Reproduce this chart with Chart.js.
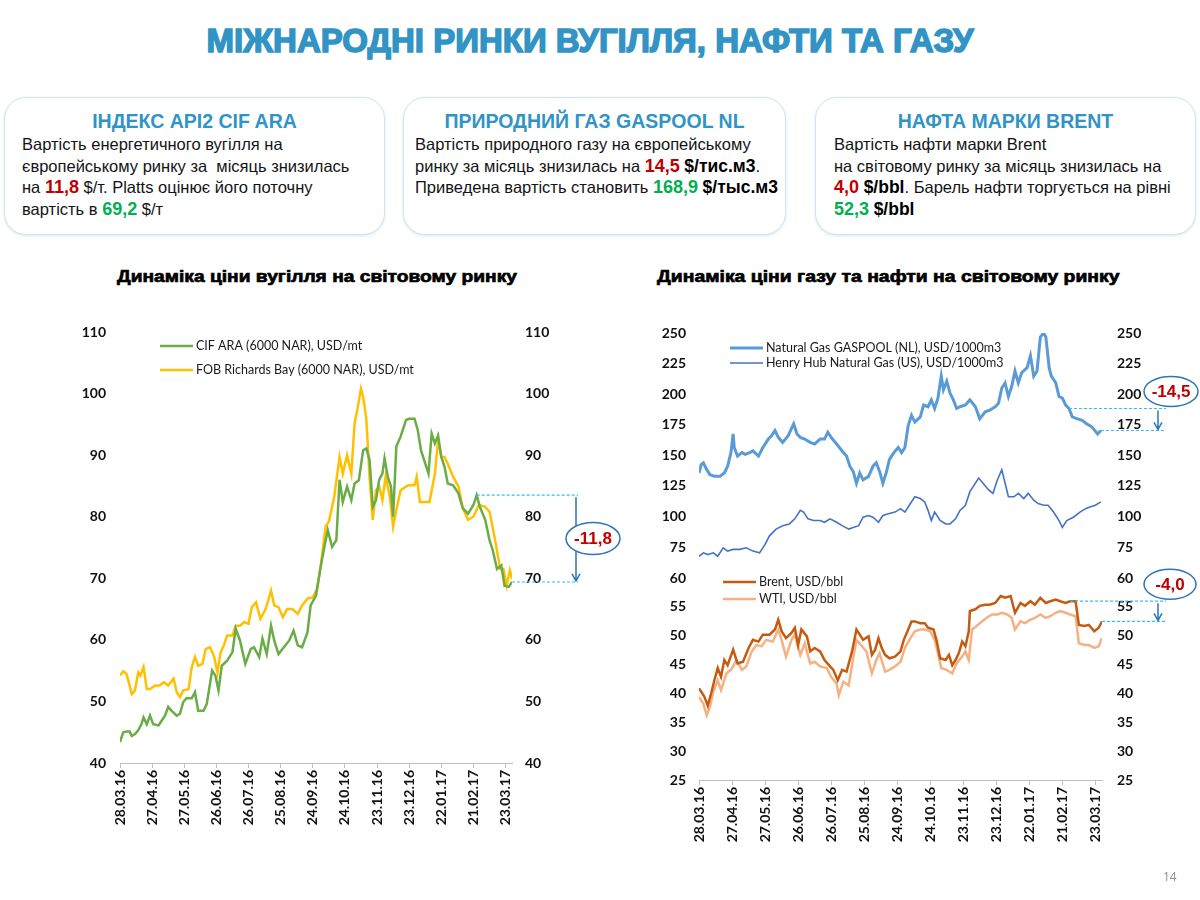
<!DOCTYPE html>
<html>
<head>
<meta charset="utf-8">
<script src="https://cdn.jsdelivr.net/npm/chart.js@4.4.0/dist/chart.umd.min.js"></script>
<style>
  body { margin: 0; background: #fff; font-family: "Liberation Sans", Arial, sans-serif; }
  #page { position: relative; width: 1200px; height: 900px; overflow: hidden; background: #fff; }
  h1 { position: absolute; left: -10px; top: 21px; width: 1200px; margin: 0; text-align: center;
       font-family: "Liberation Sans Narrow", "Liberation Sans", sans-serif; font-weight: bold;
       font-size: 33px; line-height: 40px; color: #3194c4; -webkit-text-stroke: 1.5px #3194c4; }
  .box { position: absolute; top: 97px; height: 138px; box-sizing: border-box; border: 1.5px solid #cde5f0;
         border-radius: 22px; background: #fff; box-shadow: 0 1px 3px rgba(140, 185, 210, .35); }
  .box h2 { margin: 11px 0 0 0; text-align: center; font-size: 19.5px; line-height: 25px; color: #3194c4; font-weight: bold; }
  .box p { margin: 0; font-size: 16.5px; line-height: 21.7px; color: #141414; white-space: nowrap; }
  .r { color: #c00000; font-weight: bold; font-size: 18px; }
  .g { color: #00b050; font-weight: bold; font-size: 18px; }
  .u { font-weight: bold; font-size: 17.5px; color: #000; }
  .ctitle { position: absolute; top: 267px; font-weight: bold; font-size: 17px; color: #000;
            -webkit-text-stroke: .7px #000; white-space: nowrap; transform-origin: 0 50%; }
  canvas { position: absolute; }
  #pnum { position: absolute; left: 1163px; top: 868px; font-size: 12px; color: #8c8c8c; font-family: "Open Sans", sans-serif; }
</style>
</head>
<body>
<div id="page">
  <h1>МІЖНАРОДНІ РИНКИ ВУГІЛЛЯ, НАФТИ ТА ГАЗУ</h1>

  <div class="box" style="left:4px;width:381px;padding-left:17px;">
    <h2 style="margin-left:-17px">ІНДЕКС API2 CIF ARA</h2>
    <p>Вартість енергетичного вугілля на<br>
       європейському ринку за&nbsp; місяць знизилась<br>
       на <span class="r">11,8</span> $/т. Platts оцінює його поточну<br>
       вартість в <span class="g">69,2</span> $/т</p>
  </div>
  <div class="box" style="left:403px;width:383px;padding-left:11px;">
    <h2 style="margin-left:-11px">ПРИРОДНИЙ ГАЗ GASPOOL NL</h2>
    <p>Вартість природного газу на європейському<br>
       ринку за місяць знизилась на <span class="r">14,5</span> <span class="u">$/тис.м3</span>.<br>
       Приведена вартість становить <span class="g">168,9</span> <span class="u">$/тыс.м3</span></p>
  </div>
  <div class="box" style="left:815px;width:381px;padding-left:18px;">
    <h2 style="margin-left:-18px">НАФТА МАРКИ BRENT</h2>
    <p>Вартість нафти марки Brent<br>
       на світовому ринку за місяць знизилась на<br>
       <span class="r">4,0</span> <span class="u">$/bbl</span>. Барель нафти торгується на рівні<br>
       <span class="g">52,3</span> <span class="u">$/bbl</span></p>
  </div>

  <div class="ctitle" style="left:117px;transform:scaleX(1.13)">Динаміка ціни вугілля на світовому ринку</div>
  <div class="ctitle" style="left:657px;transform:scaleX(1.14)">Динаміка ціни газу та нафти на світовому ринку</div>

  <canvas id="coal" width="600" height="540" style="left:40px;top:300px"></canvas>
  <canvas id="gasoil" width="560" height="570" style="left:640px;top:300px"></canvas>
  <div id="pnum">14</div>
</div>

<script>
// x = days since 28.03.16
const dateLabels = ['28.03.16', '27.04.16', '27.05.16', '26.06.16', '26.07.16', '25.08.16', '24.09.16',
  '24.10.16', '23.11.16', '23.12.16', '22.01.17', '21.02.17', '23.03.17'];
const tickDays = [0, 30, 60, 90, 120, 150, 180, 210, 240, 270, 300, 330, 360];

// coal, USD/mt
const cifDays = [0,3,6,9,11,14,17,20,22,25,28,31,36,39,42,45,48,53,56,59,62,67,70,73,78,81,86,89,92,95,100,105,108,112,117,122,125,130,133,137,141,144,148,153,158,162,166,170,175,178,183,187,191,194,198,202,205,208,212,216,219,223,227,230,233,236,239,242,245,247,250,253,255,258,262,267,270,275,278,281,284,288,291,294,297,300,303,306,311,316,320,325,330,333,336,341,345,348,352,356,359,363,366];
const cifValues = [43.4,45.0,45.1,45.1,44.4,44.7,45.3,46.3,47.4,46.3,47.7,46.3,46.1,46.9,47.7,49.1,48.5,47.7,48.0,49.9,50.5,50.5,51.5,48.5,48.5,49.6,55.0,54.2,51.8,55.8,56.6,58.0,61.8,59.9,56.1,58.5,58.8,57.2,60.2,57.7,62.3,59.9,57.7,58.8,59.9,61.5,59.1,58.8,61.2,65.6,67.2,71.5,75.3,77.8,75.1,76.2,86.0,82.4,84.9,82.7,85.4,85.9,90.8,91.1,89.2,81.6,82.7,86.0,87.0,89.5,86.5,84.9,80.0,91.4,93.0,95.7,95.9,95.9,94.1,90.8,89.2,87.0,93.5,91.9,93.2,89.7,88.1,85.4,85.1,83.8,81.4,80.5,81.9,83.5,81.6,79.5,76.2,74.6,71.5,72.1,68.8,68.6,69.4];
const fobDays = [0,3,6,9,11,14,17,19,22,25,28,33,37,41,45,50,53,56,59,64,67,70,73,77,80,84,88,91,94,97,100,105,108,112,116,120,123,127,131,136,141,144,148,152,156,161,166,170,175,180,184,187,192,195,200,205,208,212,216,219,222,225,227,230,233,236,239,242,245,248,252,255,258,262,269,275,277,280,284,289,294,297,300,303,306,311,316,320,325,330,335,341,345,350,355,358,361,364,366];
const fobValues = [54.2,54.9,54.5,52.6,51.2,51.8,54.7,54.2,55.6,52.0,52.0,52.6,52.6,53.1,52.6,53.7,51.5,50.7,51.8,52.0,55.6,57.2,55.8,56.1,58.5,58.8,57.2,54.7,58.0,59.1,60.7,60.7,62.3,62.3,62.9,62.6,65.3,66.1,63.4,65.0,68.0,65.6,65.3,63.7,65.0,65.0,64.2,65.6,66.7,66.9,68.3,71.5,78.4,79.2,83.2,89.7,87.0,90.0,87.0,95.1,97.8,100.8,99.5,95.9,86.5,79.5,84.3,84.9,82.7,86.5,83.2,78.4,81.1,84.3,85.1,85.1,86.5,82.4,82.4,82.4,87.0,92.4,89.7,89.7,88.6,86.5,84.9,81.4,79.5,80.0,81.9,81.6,80.8,76.4,71.5,71.5,68.8,71.3,69.9];

// gas, USD/1000m3
const gaspoolDays = [0,2,4,7,10,14,19,23,26,29,31,32,35,39,42,46,49,54,58,63,66,69,72,76,81,86,89,92,96,101,105,110,114,117,120,125,130,134,137,140,143,146,149,154,158,161,164,167,170,173,177,181,184,187,190,193,196,201,204,208,211,214,217,220,222,225,228,231,234,237,242,246,251,255,260,264,269,272,275,278,281,284,287,290,293,298,301,304,307,310,313,315,318,320,324,327,330,333,336,339,343,348,352,357,362,365];
const gaspoolValues = [135.6,142.5,143.9,138.3,134.2,132.8,132.8,135.6,141.1,152.2,167.5,156.4,149.4,152.2,150.8,152.2,153.6,149.4,156.4,163.3,166.1,170.3,164.7,160.6,166.1,175.8,167.5,164.7,163.3,160.6,159.2,163.3,163.3,168.9,164.7,159.2,153.6,149.4,141.1,136.9,127.2,135.6,130.0,132.8,141.1,143.9,136.9,127.2,135.6,146.7,152.2,156.4,152.2,156.4,174.4,182.8,177.2,181.4,191.1,189.7,195.3,188.3,196.7,214.7,203.6,210.6,200.8,195.3,188.3,189.7,191.1,195.3,189.7,180.0,185.6,186.9,189.7,192.5,205.0,209.2,198.1,206.4,218.9,209.2,217.5,221.7,231.4,214.7,218.9,246.7,250.0,246.7,221.7,214.7,209.2,198.1,196.7,191.1,188.3,181.4,180.0,178.6,175.8,173.1,167.5,170.3];
const henryDays = [0,4,8,13,17,22,26,31,37,43,49,55,60,64,70,76,82,87,92,95,99,104,110,114,119,125,130,136,140,145,149,154,158,163,167,172,178,183,187,192,196,201,205,208,211,214,219,224,228,233,237,242,246,249,254,258,263,267,271,275,278,281,286,290,295,299,304,308,313,317,322,327,330,334,340,346,351,355,360,365];
const henryValues = [67.5,70.3,68.9,70.3,67.5,74.4,71.7,73.1,73.1,74.4,71.7,70.3,77.2,84.2,89.7,92.5,93.9,98.1,105.0,103.6,98.1,96.7,96.7,95.3,98.1,95.3,92.5,89.7,91.1,92.5,99.4,100.8,99.4,95.3,100.8,102.2,103.6,106.4,103.6,110.6,116.1,114.7,111.9,105.0,96.7,103.6,96.7,93.9,93.9,98.1,105.0,109.2,120.3,124.4,131.4,127.2,121.7,118.9,130.0,138.3,127.2,116.1,116.1,118.9,114.7,118.9,113.3,110.6,109.2,109.2,103.6,96.7,91.1,96.7,99.4,103.6,106.4,107.8,109.2,111.9];

// oil, USD/bbl
const brentDays = [0,2,5,8,11,14,17,20,23,26,31,35,40,45,49,54,58,64,69,72,75,79,84,87,90,93,98,101,105,110,114,119,122,126,130,134,139,143,146,149,154,157,160,163,166,169,173,178,183,186,190,193,196,201,205,208,213,216,219,224,227,230,233,236,239,242,245,246,251,255,260,264,269,274,278,283,287,292,296,301,305,310,315,319,324,328,333,337,342,345,350,354,359,363,366];
const brentValues = [40.9,40.3,39.4,37.9,40.0,42.3,44.4,42.9,45.8,44.9,47.6,45.2,45.5,47.9,49.3,49.0,50.2,50.2,51.1,52.8,50.8,49.6,50.5,51.4,48.4,51.1,49.9,47.3,47.9,47.3,45.8,44.7,44.1,42.3,44.1,43.8,47.3,51.1,50.2,49.3,49.9,46.7,47.6,49.6,47.9,46.7,46.1,46.4,47.3,49.3,51.1,52.5,52.5,52.2,52.2,51.4,51.1,49.0,46.1,45.8,46.7,44.9,45.8,47.0,49.0,48.2,50.8,54.3,54.6,55.2,55.4,55.4,55.7,56.9,56.6,56.9,54.0,55.7,55.2,56.0,55.4,56.6,55.7,56.0,56.3,56.0,55.7,56.0,56.0,51.9,51.7,51.9,50.8,51.4,52.5];
const wtiDays = [0,4,7,10,13,17,20,25,29,34,39,43,48,52,57,61,67,72,75,79,84,87,92,96,101,105,110,116,120,125,127,131,136,140,143,148,152,157,161,164,169,173,178,183,187,192,196,201,205,210,214,217,220,225,230,234,239,242,245,248,252,257,261,266,271,275,280,284,287,292,296,301,305,310,315,319,324,328,333,337,342,345,350,354,359,363,366];
const wtiValues = [39.4,38.2,36.2,37.7,40.3,42.3,40.6,43.5,44.1,45.8,44.1,44.7,47.3,48.4,48.2,49.3,49.0,51.1,49.3,46.4,49.3,50.2,46.7,48.7,45.2,45.5,44.7,44.4,42.9,41.7,39.7,42.0,41.4,46.1,49.3,48.2,47.3,43.5,45.8,47.0,43.8,44.1,44.7,45.5,47.9,49.6,50.8,51.1,51.1,50.8,49.3,47.0,44.4,44.1,43.5,45.2,46.4,47.3,45.8,51.1,51.7,52.5,53.1,53.7,53.7,54.0,53.7,53.1,51.1,52.5,52.2,52.8,53.1,53.7,53.1,53.4,54.0,54.3,54.0,53.7,53.4,48.7,48.4,48.4,47.9,48.2,49.6];

const coalTicks = [40, 50, 60, 70, 80, 90, 100, 110];
const gasTicks = [75, 100, 125, 150, 175, 200, 225, 250];
const oilTicks = [25, 30, 35, 40, 45, 50, 55, 60];

const pts = (days, vals) => days.map((d, i) => ({ x: d, y: vals[i] }));
const setTicks = list => scale => { scale.ticks = list.map(v => ({ value: v })); };

const tickFont = { family: 'Lato', weight: 'bold', size: 14 };

// legend drawn inside the plot
const insideLegend = {
  id: 'insideLegend',
  afterDatasetsDraw(chart, args, opts) {
    const ctx = chart.ctx;
    (opts.groups || []).forEach(g => {
      const top = g.scale ? chart.scales[g.scale].top : chart.chartArea.top;
      g.items.forEach((di, k) => {
        const ds = chart.data.datasets[di];
        const x = chart.chartArea.left + g.dx;
        const y = top + g.dy + k * g.gap;
        ctx.save();
        ctx.strokeStyle = ds.borderColor;
        ctx.lineWidth = ds.borderWidth;
        ctx.beginPath();
        ctx.moveTo(x, y);
        ctx.lineTo(x + 33, y);
        ctx.stroke();
        ctx.fillStyle = '#1a1a1a';
        ctx.font = '12.5px Lato';
        ctx.textBaseline = 'middle';
        ctx.fillText(ds.label, x + 36, y);
        ctx.restore();
      });
    });
  }
};

// dashed level lines, arrow and the oval with the monthly change
const dropMark = {
  id: 'dropMark',
  afterDatasetsDraw(chart, args, opts) {
    const ctx = chart.ctx;
    const area = chart.chartArea;
    (opts.items || []).forEach(it => {
      const ds = chart.data.datasets[it.dataset];
      const xs = chart.scales.x;
      const ys = chart.scales[ds.yAxisID];
      const start = ds.data.find(p => p.x === it.fromDay);
      const last = ds.data[ds.data.length - 1];
      const yTop = ys.getPixelForValue(start.y);
      const yBot = ys.getPixelForValue(last.y);
      const xEnd = area.right + it.lineEnd;
      const ax = area.right + it.arrowX;
      ctx.save();
      ctx.strokeStyle = '#33bdf0';
      ctx.lineWidth = 1.2;
      ctx.setLineDash([3, 2]);
      ctx.beginPath();
      ctx.moveTo(xs.getPixelForValue(start.x), yTop);
      ctx.lineTo(xEnd, yTop);
      ctx.moveTo(xs.getPixelForValue(last.x), yBot);
      ctx.lineTo(xEnd, yBot);
      ctx.stroke();
      ctx.setLineDash([]);
      ctx.strokeStyle = '#2e75b6';
      ctx.lineWidth = 1.5;
      ctx.beginPath();
      ctx.moveTo(ax, yTop + 2);
      ctx.lineTo(ax, yBot - 1);
      ctx.moveTo(ax - 4, yBot - 8);
      ctx.lineTo(ax, yBot - 1);
      ctx.lineTo(ax + 4, yBot - 8);
      ctx.stroke();
      const cx = ax + it.ex;
      const cy = it.above ? yTop - it.ey : (yTop + yBot) / 2;
      if (!it.above) {
        ctx.fillStyle = '#fff';
        ctx.beginPath();
        ctx.ellipse(cx, cy, it.rx, it.ry, 0, 0, Math.PI * 2);
        ctx.fill();
      }
      ctx.beginPath();
      ctx.ellipse(cx, cy, it.rx, it.ry, 0, 0, Math.PI * 2);
      ctx.stroke();
      ctx.fillStyle = '#c00000';
      ctx.font = 'bold 17px "Liberation Sans"';
      ctx.textAlign = 'center';
      ctx.textBaseline = 'middle';
      ctx.fillText(it.text, cx, cy + 1);
      ctx.restore();
    });
  }
};

const xAxis = height => ({
  type: 'linear', min: 0, max: 366,
  afterBuildTicks: setTicks(tickDays),
  afterFit: s => { s.height = height; },
  ticks: { callback: (v, i) => dateLabels[i], minRotation: 90, maxRotation: 90, autoSkip: false,
           font: tickFont, color: '#111', padding: 2 },
  grid: { drawOnChartArea: false, drawTicks: true, tickLength: 5, color: '#bfbfbf' },
  border: { color: '#bfbfbf' }
});

const yAxis = (pos, min, max, ticks, width, pad, extra) => Object.assign({
  type: 'linear', position: pos, min: min, max: max,
  afterBuildTicks: setTicks(ticks),
  afterFit: s => { s.width = width; },
  ticks: { font: tickFont, color: '#111', padding: pad, autoSkip: false },
  grid: { display: false, drawTicks: false },
  border: { display: false }
}, extra || {});

new Chart(document.getElementById('coal'), {
  type: 'line',
  data: {
    datasets: [
      { label: 'CIF ARA (6000 NAR), USD/mt', data: pts(cifDays, cifValues), yAxisID: 'y',
        borderColor: '#6aac46', borderWidth: 2.5 },
      { label: 'FOB Richards Bay (6000 NAR), USD/mt', data: pts(fobDays, fobValues), yAxisID: 'y',
        borderColor: '#ffc000', borderWidth: 2.5 }
    ]
  },
  options: {
    responsive: false, animation: false,
    elements: { point: { radius: 0 }, line: { tension: 0 } },
    layout: { padding: { left: 0, right: 83, top: 32, bottom: 0 } },
    scales: {
      x: xAxis(77),
      y: yAxis('left', 40, 110, coalTicks, 80, 14),
      yR: yAxis('right', 40, 110, coalTicks, 45, 13)
    },
    plugins: {
      legend: { display: false }, tooltip: { enabled: false },
      insideLegend: { groups: [{ items: [0, 1], dx: 40, dy: 14, gap: 24 }] },
      dropMark: { items: [{ dataset: 0, fromDay: 333, text: '-11,8', lineEnd: 66, arrowX: 64,
                            ex: 17, rx: 27, ry: 16, above: false }] }
    }
  },
  plugins: [insideLegend, dropMark]
});

new Chart(document.getElementById('gasoil'), {
  type: 'line',
  data: {
    datasets: [
      { label: 'Natural Gas GASPOOL (NL), USD/1000m3', data: pts(gaspoolDays, gaspoolValues), yAxisID: 'yGas',
        borderColor: '#5b9bd5', borderWidth: 3 },
      { label: 'Henry Hub Natural Gas (US), USD/1000m3', data: pts(henryDays, henryValues), yAxisID: 'yGas',
        borderColor: '#4472c4', borderWidth: 1.6 },
      { label: 'Brent, USD/bbl', data: pts(brentDays, brentValues), yAxisID: 'yOil',
        borderColor: '#c55a11', borderWidth: 2.5 },
      { label: 'WTI, USD/bbl', data: pts(wtiDays, wtiValues), yAxisID: 'yOil',
        borderColor: '#f4b183', borderWidth: 2.5 }
    ]
  },
  options: {
    responsive: false, animation: false,
    elements: { point: { radius: 0 }, line: { tension: 0 } },
    layout: { padding: { left: 0, right: 53, top: 33, bottom: 0 } },
    scales: {
      x: xAxis(90),
      yOil: yAxis('left', 25, 62.8, oilTicks, 59, 13, { stack: 'L', stackWeight: 218 }),
      yGas: yAxis('left', 62.8, 250, gasTicks, 59, 13, { stack: 'L', stackWeight: 229 }),
      yGasR: yAxis('right', 62.8, 250, gasTicks, 45, 15, { stack: 'R', stackWeight: 229 }),
      yOilR: yAxis('right', 25, 62.8, oilTicks, 45, 15, { stack: 'R', stackWeight: 218 })
    },
    plugins: {
      legend: { display: false }, tooltip: { enabled: false },
      insideLegend: { groups: [
        { items: [0, 1], dx: 31, dy: 15, gap: 15 },
        { scale: 'yOil', items: [2, 3], dx: 24, dy: 20, gap: 17 }
      ] },
      dropMark: { items: [
        { dataset: 0, fromDay: 336, text: '-14,5', lineEnd: 64, arrowX: 56, ex: 13, ey: 17, rx: 27, ry: 15, above: true },
        { dataset: 2, fromDay: 337, text: '-4,0', lineEnd: 64, arrowX: 56, ex: 12, ey: 17, rx: 26, ry: 15, above: true }
      ] }
    }
  },
  plugins: [insideLegend, dropMark]
});
</script>
</body>
</html>
